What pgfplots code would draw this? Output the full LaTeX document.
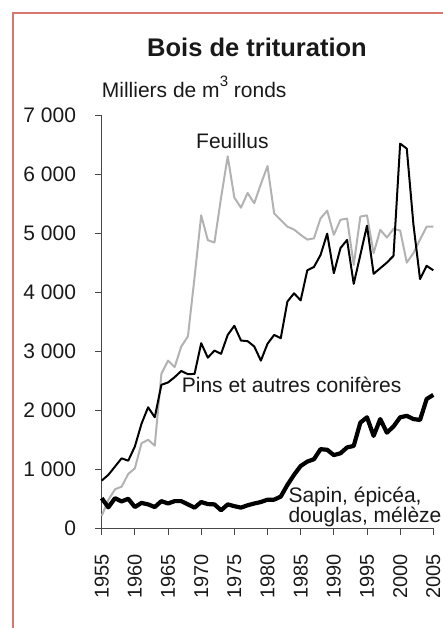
\documentclass[border=0pt]{standalone}
\usepackage{fontspec}
\setmainfont{Liberation Sans}
\usepackage{pgfplots}
\pgfplotsset{compat=1.18}
\usepackage{pgfplotstable}
\definecolor{framecol}{RGB}{214,120,110}
\definecolor{axiscol}{RGB}{70,70,70}
\definecolor{feuil}{RGB}{178,178,178}
\definecolor{txt}{RGB}{25,25,25}

\pgfplotstableread{
year feuillus pins sapin
1955 210 808 510
1956 480 905 355
1957 660 1045 510
1958 705 1185 455
1959 920 1145 500
1960 1015 1385 360
1961 1440 1770 430
1962 1500 2050 405
1963 1400 1880 360
1964 2615 2430 460
1965 2840 2470 420
1966 2730 2560 460
1967 3080 2665 460
1968 3250 2610 405
1969 4250 2615 350
1970 5300 3135 445
1971 4880 2890 410
1972 4840 3010 405
1973 5600 2955 305
1974 6300 3275 405
1975 5600 3430 375
1976 5430 3180 350
1977 5680 3170 390
1978 5505 3080 420
1979 5830 2840 445
1980 6135 3125 485
1981 5335 3275 485
1982 5220 3220 537
1983 5110 3840 735
1984 5060 3980 905
1985 4970 3860 1055
1986 4890 4370 1130
1987 4910 4425 1170
1988 5250 4630 1340
1989 5380 4990 1330
1990 4970 4320 1240
1991 5225 4745 1270
1992 5245 4885 1370
1993 4460 4140 1395
1994 5280 4630 1790
1995 5300 5125 1880
1996 4660 4310 1565
1997 5055 4405 1850
1998 4925 4500 1620
1999 5070 4615 1725
2000 5045 6515 1880
2001 4500 6430 1905
2002 4660 5150 1850
2003 4890 4220 1835
2004 5110 4445 2190
2005 5110 4370 2260
}\datatable

\begin{document}
\begin{tikzpicture}[x=1pt,y=1pt]
\path[use as bounding box] (0,0) rectangle (443,628);
\draw[framecol, line width=2pt] (12.7,-5) -- (12.7,615) -- (450,615);
\begin{axis}[
  at={(101.7pt,99.7pt)}, anchor=south west,
  scale only axis, width=331.6pt, height=413.3pt,
  xmin=1955, xmax=2005, ymin=0, ymax=7000,
  axis x line*=bottom, axis y line*=left,
  axis line style={axiscol, line width=0.9pt},
  tick style={axiscol, line width=0.8pt},
  tick align=outside, major tick length=6.5pt,
  xtick={1955,1960,...,2005},
  xticklabels={1955,1960,1965,1970,1975,1980,1985,1990,1995,2000,2005},
  ytick={0,1000,...,7000},
  yticklabels={0,1 000,2 000,3 000,4 000,5 000,6 000,7 000},
  yticklabel style={font=\fontsize{21}{25}\selectfont, text=txt, anchor=east, inner sep=0pt},
  xticklabel style={font=\fontsize{20}{24}\selectfont, text=txt, rotate=90, anchor=east, inner sep=0pt},
  yticklabel shift=19pt,
  xticklabel shift=19pt,
  clip=false,
]
\addplot[feuil, line width=2pt, line join=round] table[x=year, y=feuillus] {\datatable};
\addplot[black, line width=2pt, line join=round] table[x=year, y=pins] {\datatable};
\addplot[black, line width=4.2pt, line join=round] table[x=year, y=sapin] {\datatable};
\end{axis}
\node[anchor=base, text=txt, font=\fontsize{25.5}{30}\selectfont\bfseries] at (257,571) {Bois de trituration};
\node[anchor=base west, text=txt, inner sep=0pt, font=\fontsize{21}{25}\selectfont] at (101.7,530.7) {Milliers de m\raisebox{0.5em}{\fontsize{15}{18}\selectfont 3} ronds};
\node[anchor=base west, text=txt, inner sep=0pt, font=\fontsize{21}{25}\selectfont] at (196,479.7) {Feuillus};
\node[anchor=base west, text=txt, inner sep=0pt, font=\fontsize{21}{25}\selectfont] at (181.7,235.3) {Pins et autres conifères};
\node[anchor=base west, text=txt, inner sep=0pt, font=\fontsize{21}{25}\selectfont] at (288.3,125) {Sapin, épicéa,};
\node[anchor=base west, text=txt, inner sep=0pt, font=\fontsize{21}{25}\selectfont] at (288.3,105) {douglas, mélèze};
\end{tikzpicture}
\end{document}
